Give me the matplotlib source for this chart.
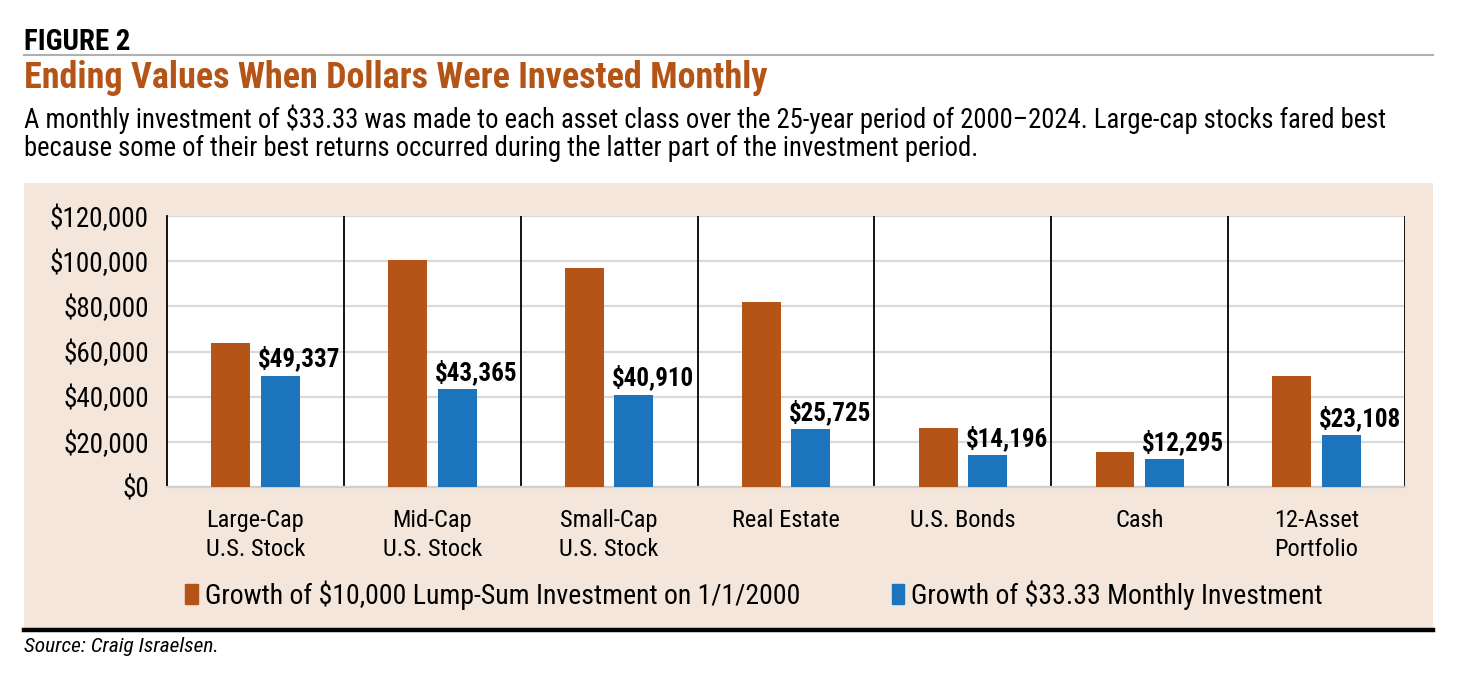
import matplotlib
matplotlib.use("Agg")
import matplotlib.pyplot as plt
from matplotlib import font_manager
from matplotlib.patches import Rectangle, Patch
from matplotlib.lines import Line2D
import matplotlib.ticker as ticker
import numpy as np

# data
categories = ["Large-Cap\nU.S. Stock", "Mid-Cap\nU.S. Stock", "Small-Cap\nU.S. Stock",
              "Real Estate\n", "U.S. Bonds\n", "Cash\n", "12-Asset\nPortfolio"]
lump_sum = [63900, 100500, 97000, 82100, 26200, 15600, 49300]
monthly = [49337, 43365, 40910, 25725, 14196, 12295, 23108]
yticks = [0, 20000, 40000, 60000, 80000, 100000, 120000]

ORANGE = "#B45416"
BLUE = "#1C75BC"
TAN = "#F4E6DA"

names = {f.name for f in font_manager.fontManager.ttflist}
FONT = "Roboto Condensed" if "Roboto Condensed" in names else "Roboto"
plt.rcParams["font.family"] = [FONT, "DejaVu Sans"]

fig = plt.figure(figsize=(14.61, 6.74), dpi=100)

# tan panel + black rule
fig.patches.append(Rectangle((24/1461, 1-628/674), (1433-24)/1461, (628-183)/674,
                             transform=fig.transFigure, facecolor=TAN, edgecolor="none", zorder=-10))
fig.add_artist(Line2D([24/1461, 1433/1461], [1-630/674]*2, color="black", lw=3.2))
fig.add_artist(Line2D([24/1461, 1433/1461], [1-55/674]*2, color="#b0b0b0", lw=1.5))

fig.text(24/1461, 1-42/674, "FIGURE 2", fontsize=20.8, fontweight="bold", va="center")
fig.text(24/1461, 1-78/674, "Ending Values When Dollars Were Invested Monthly",
         fontsize=26, fontweight="bold", color=ORANGE, va="center")
fig.text(24/1461, 1-119/674,
         "A monthly investment of $33.33 was made to each asset class over the 25-year period of 2000\u20132024. Large-cap stocks fared best",
         fontsize=19.2, va="center")
fig.text(24/1461, 1-148/674,
         "because some of their best returns occurred during the latter part of the investment period.",
         fontsize=19.2, va="center")
fig.text(24/1461, 1-646/674, "Source: Craig Israelsen.", fontsize=15.4, style="italic", va="center")

ax = fig.add_axes([167/1461, 1-487/674, (1405-167)/1461, (487-216)/674])
ax.set_facecolor("white")
x = np.arange(len(categories))
w = 0.22
ax.bar(x - 0.14, lump_sum, w, color=ORANGE, zorder=3)
ax.bar(x + 0.14, monthly, w, color=BLUE, zorder=3)
for xi, v in zip(x, monthly):
    ax.text(xi + 0.14 - w/2 - 0.015, v + 1800, "${:,}".format(v), ha="left", va="bottom",
            fontsize=18, fontweight="bold", zorder=4)

ax.set_xlim(-0.5, len(categories) - 0.5)
ax.set_ylim(0, 120000)
ax.set_yticks(yticks)
ax.yaxis.set_major_formatter(ticker.FuncFormatter(lambda y, pos: "${:,.0f}".format(y)))
ax.grid(axis="y", color="#d9d9d9", lw=1.6, zorder=1)
for b in np.arange(0.5, len(categories), 1):
    ax.axvline(b, color="black", lw=1.3, zorder=2)
ax.set_xticks(x)
ax.set_xticklabels(categories, fontsize=17.6, linespacing=1.3, va="top")
ax.tick_params(axis="x", length=0, pad=16)
ax.tick_params(axis="y", length=0, pad=13, labelsize=19.5)
ax.spines["top"].set_visible(False)
ax.spines["left"].set_color("black")
ax.spines["left"].set_linewidth(1.3)
ax.spines["right"].set_visible(False)
ax.spines["bottom"].set_color("#cfcfcf")
ax.spines["bottom"].set_linewidth(1.6)

handles = [Patch(color=ORANGE), Patch(color=BLUE)]
fig.legend(handles, ["Growth of $10,000 Lump-Sum Investment on 1/1/2000",
                     "Growth of $33.33 Monthly Investment"],
           loc="center", bbox_to_anchor=(754/1461, 1-595/674), ncol=2, frameon=False,
           fontsize=20, handlelength=0.45, handleheight=0.7, handletextpad=0.25,
           columnspacing=3.3)

fig.savefig("out.png", dpi=100)
